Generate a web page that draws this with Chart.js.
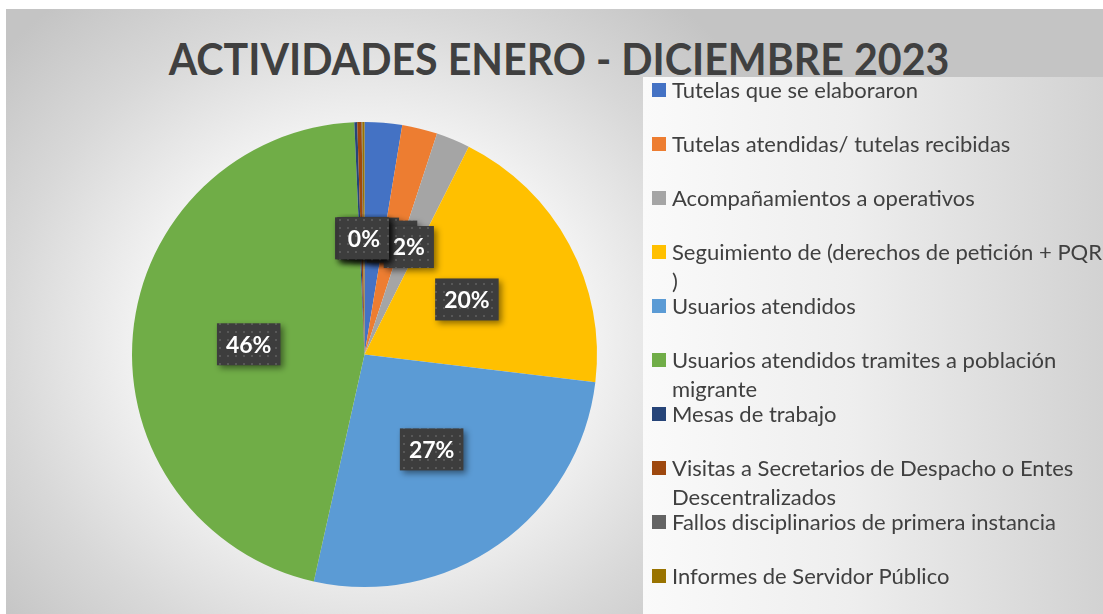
<!DOCTYPE html>
<html>
<head>
<meta charset="utf-8">
<script src="https://cdn.jsdelivr.net/npm/chart.js@4.4.0/dist/chart.umd.min.js"></script>
<style>
  html, body { margin: 0; padding: 0; width: 1103px; height: 614px; overflow: hidden; background: #fff; }
  #frame {
    position: absolute; left: 6px; top: 9px; width: 1097px; height: 605px; overflow: hidden;
    background: radial-gradient(ellipse 480px 440px at 360px 330px, #ffffff 0%, #f4f4f4 45%, #d8d8d8 75%, #c4c4c4 100%);
  }
  #legendPanel {
    position: absolute; left: 643px; top: 77px; width: 460px; height: 537px;
    background: linear-gradient(to right, #fafafa 0%, #eeeeee 45%, #d2d2d2 100%);
  }
  #title {
    position: absolute; left: 0; top: 34px; width: 1118px; text-align: center;
    font-family: Lato, "Open Sans", sans-serif; font-weight: bold; font-size: 44px; color: #404040;
    line-height: 48px; white-space: nowrap; transform: scaleX(0.935); transform-origin: 559px 0;
  }
  #legend { position: absolute; left: 652px; top: 75px; width: 460px; }
  .item { position: relative; height: 54px; }
  .sq { position: absolute; left: 0; top: 8px; width: 14px; height: 14px; }
  .txt {
    position: absolute; left: 20px; top: 0; white-space: nowrap;
    font-family: Lato, "Open Sans", sans-serif; font-size: 22px; line-height: 29px; color: #404040;
  }
  #wrap { position: absolute; left: 0; top: 0; width: 1103px; height: 614px; }
</style>
</head>
<body>
<div id="frame"></div>
<div id="legendPanel"></div>
<div id="title">ACTIVIDADES ENERO - DICIEMBRE 2023</div>
<div id="wrap"><canvas id="pie"></canvas></div>
<div id="legend"></div>
<script>
// categories (multi-line ones split where the legend wraps)
var categories = [
  'Tutelas que se elaboraron',
  'Tutelas atendidas/ tutelas recibidas',
  'Acompañamientos a operativos',
  ['Seguimiento de (derechos de petición + PQR', ')'],
  'Usuarios atendidos',
  ['Usuarios atendidos tramites a población', 'migrante'],
  'Mesas de trabajo',
  ['Visitas a Secretarios de Despacho o Entes', 'Descentralizados'],
  'Fallos disciplinarios de primera instancia',
  'Informes de Servidor Público'
];
// share of activities (percent)
var values = [2.6, 2.45, 2.35, 19.5, 26.6, 45.8, 0.2, 0.3, 0.05, 0.15];
var colors = ['#4472C4', '#ED7D31', '#A5A5A5', '#FFC000', '#5B9BD5', '#70AD47', '#264478', '#9E480E', '#636363', '#997300'];

// dotted dark fill used behind the data labels
function makePattern(ctx) {
  var p = document.createElement('canvas');
  p.width = 8; p.height = 8;
  var c = p.getContext('2d');
  c.fillStyle = '#3d3d3d';
  c.fillRect(0, 0, 8, 8);
  c.fillStyle = '#585858';
  c.fillRect(3, 3, 2, 2);
  return ctx.createPattern(p, 'repeat');
}

var boxLabels = {
  id: 'boxLabels',
  afterDatasetsDraw: function (chart) {
    var ctx = chart.ctx;
    var meta = chart.getDatasetMeta(0);
    var data = chart.data.datasets[0].data;
    var total = data.reduce(function (a, b) { return a + b; }, 0);
    var pat = makePattern(ctx);
    ctx.save();
    ctx.font = 'bold 23px Lato, "Open Sans", sans-serif';
    ctx.textAlign = 'center';
    ctx.textBaseline = 'middle';
    meta.data.forEach(function (arc, i) {
      var p = arc.getProps(['x', 'y', 'startAngle', 'endAngle', 'outerRadius'], true);
      var mid = (p.startAngle + p.endAngle) / 2;
      var r = p.outerRadius * 0.5;
      var cx = p.x + Math.cos(mid) * r;
      var cy = p.y + Math.sin(mid) * r;
      var txt = Math.round(data[i] / total * 100) + '%';
      var w = ctx.measureText(txt).width + 18;
      var h = 42;
      ctx.save();
      ctx.shadowColor = 'rgba(0,0,0,0.45)';
      ctx.shadowBlur = 6;
      ctx.shadowOffsetX = 3;
      ctx.shadowOffsetY = 3;
      ctx.fillStyle = pat;
      ctx.fillRect(cx - w / 2, cy - h / 2, w, h);
      ctx.restore();
      ctx.fillStyle = '#ffffff';
      ctx.fillText(txt, cx, cy + 1);
    });
    ctx.restore();
  }
};

var chart = new Chart(document.getElementById('pie'), {
  type: 'pie',
  data: {
    labels: categories,
    datasets: [{
      data: values,
      backgroundColor: colors,
      borderWidth: 0
    }]
  },
  options: {
    responsive: true,
    maintainAspectRatio: false,
    animation: false,
    layout: { padding: { left: 132, right: 506, top: 121, bottom: 26 } },
    plugins: {
      legend: { display: false },
      tooltip: { enabled: false }
    }
  },
  plugins: [boxLabels]
});

// legend built from the chart's own items
var leg = document.getElementById('legend');
categories.forEach(function (c, i) {
  var item = document.createElement('div');
  item.className = 'item';
  var sq = document.createElement('div');
  sq.className = 'sq';
  sq.style.background = colors[i];
  var t = document.createElement('div');
  t.className = 'txt';
  t.innerHTML = [].concat(c).join('<br>');
  item.appendChild(sq);
  item.appendChild(t);
  leg.appendChild(item);
});
</script>
</body>
</html>
